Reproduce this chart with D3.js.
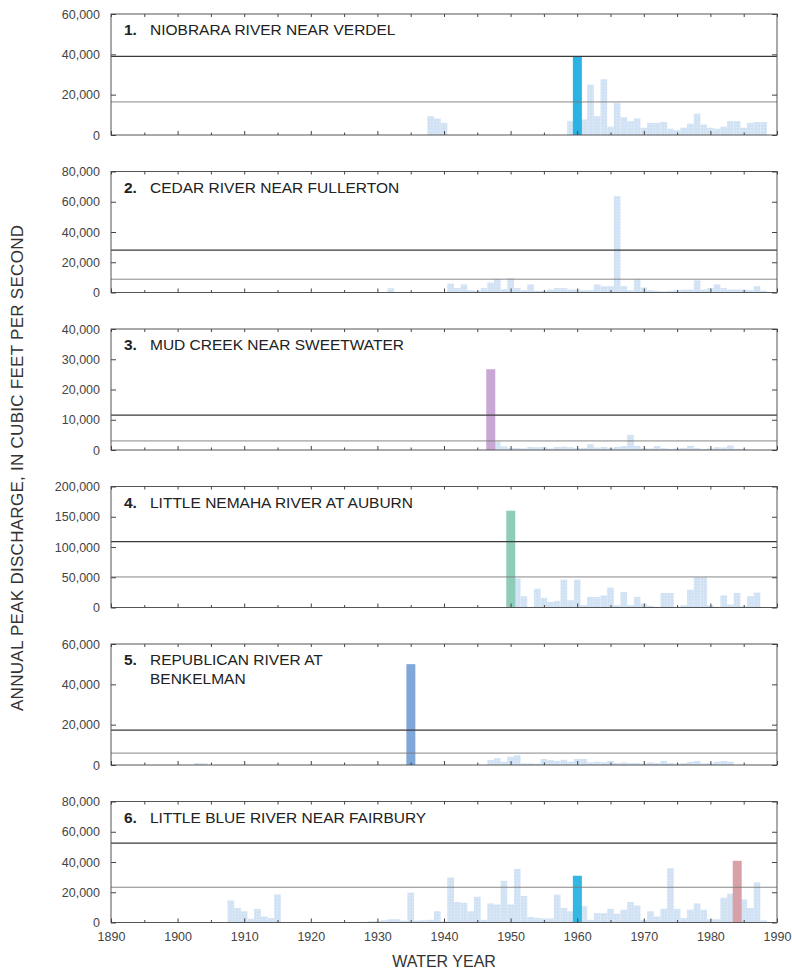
<!DOCTYPE html>
<html>
<head>
<meta charset="utf-8">
<script src="https://cdn.jsdelivr.net/npm/d3@7"></script>
<style>
  body { margin: 0; background: #fff; }
  svg { font-family: "Liberation Sans", Arial, sans-serif; }
</style>
</head>
<body>
<div id="chart"></div>
<script>
// Page and panel layout
const WIDTH = 792;
const HEIGHT = 971;
const LEFT = 111;
const RIGHT = 777;
const TOP0 = 14;
const STEP = 157.5;
const PANEL_H = 121;

// Station titles
const stationNumbers = ["1.", "2.", "3.", "4.", "5.", "6."];
const stationNames = [
  ["NIOBRARA RIVER NEAR VERDEL"],
  ["CEDAR RIVER NEAR FULLERTON"],
  ["MUD CREEK NEAR SWEETWATER"],
  ["LITTLE NEMAHA RIVER AT AUBURN"],
  ["REPUBLICAN RIVER AT", "BENKELMAN"],
  ["LITTLE BLUE RIVER NEAR FAIRBURY"]
];

// Y scales (cubic feet per second)
const yMax = [60000, 80000, 40000, 200000, 60000, 80000];
const yStep = [20000, 20000, 10000, 50000, 20000, 20000];

// Horizontal reference lines
const upperLine = [39000, 28000, 11500, 109000, 17300, 52500];
const lowerLine = [16400, 8800, 3000, 50500, 5900, 23300];

// Annual peaks
const niobraraYears = [1938, 1939, 1940].concat(d3.range(1959, 1989));
const niobraraPeaks = [9300, 8200, 6000,
  7000, 39000, 7700, 25000, 9300, 27700, 4100, 15900, 8800, 6900, 8200,
  3600, 6000, 6000, 6500, 3100, 2500, 3600, 5600, 10600, 5200,
  3600, 3100, 4100, 6900, 6900, 3600, 6000, 6400, 6400];

const cedarYears = [1932].concat(d3.range(1941, 1989));
const cedarPeaks = [2800,
  5900, 2900, 5300, 1500, 1100, 2900, 6600, 8800, 2200,
  9500, 2900, 1500, 5300, 1100, 1100, 2000, 2900, 2900, 2000,
  2000, 1500, 1500, 5300, 4200, 4200, 63700, 4200, 1500, 8800,
  3300, 1500, 1100, 700, 1100, 1500, 2000, 2000, 8100, 2000,
  2900, 5300, 2900, 2000, 2000, 2000, 1500, 4200, 1100];

const mudYears = d3.range(1947, 1986);
const mudPeaks = [26700, 2800, 1200, 700, 600, 500, 1000, 900, 1000, 500,
  1000, 1100, 900, 600, 700, 1900, 800, 1000, 600, 1000,
  1300, 5000, 1400, 600, 500, 1300, 600, 400, 500, 700,
  1400, 600, 300, 500, 900, 800, 1500, 400, 300];

const nemahaYears = d3.range(1950, 1989);
const nemahaPeaks = [160000, 48000, 18600, 1000, 31000, 15800, 9300, 11000, 46000, 12000,
  46000, 3800, 17500, 17500, 20000, 32800, 3800, 25700, 3800, 17500,
  6500, 2700, 1000, 24000, 24000, 1000, 3800, 29500, 50000, 50000,
  3800, 1000, 20000, 5000, 24000, 2000, 18600, 24600, 1000];

const republicanYears = [1903, 1904, 1935].concat(d3.range(1947, 1984));
const republicanPeaks = [1000, 800, 50000,
  2500, 3300, 1600, 4100, 4800, 800, 800, 600, 3000, 2500,
  2000, 2600, 1600, 3000, 3000, 1300, 1600, 1300, 2000, 1000,
  1300, 1000, 1000, 700, 1300, 1000, 2000, 1000, 700, 1000,
  1600, 2000, 800, 1000, 1600, 2000, 1600];

const blueYears = d3.range(1908, 1916).concat(d3.range(1929, 1989));
const bluePeaks = [14600, 9600, 7400, 2500, 9000, 4000, 3000, 18600,
  800, 1000, 1500, 2200, 2200, 1200,
  19700, 1300, 1500, 1800, 7400, 700,
  29800, 13500, 13000, 7400, 17000, 1800, 12600, 11900, 27600,
  11900, 35400, 17500, 3600, 3100, 2700, 2700, 18400, 9600, 7400,
  30900, 10800, 1800, 6300, 6300, 9000, 5800, 8500, 13500, 11200,
  1800, 7400, 4000, 9000, 35900, 9000, 2900, 8500, 12600, 8500,
  2200, 2200, 16400, 19000, 40800, 15200, 9600, 26500, 1300];

const peakYears = [niobraraYears, cedarYears, mudYears, nemahaYears, republicanYears, blueYears];
const peakValues = [niobraraPeaks, cedarPeaks, mudPeaks, nemahaPeaks, republicanPeaks, bluePeaks];

// Years of the highlighted floods
const highlightYears = [[1960], [], [1947], [1950], [1935], [1960, 1984]];

// Colours
const BAR_COLOR = "#d0e2f3";
const highlightColors = [["#2bb3e4"], [], ["#c9a7d4"], ["#8fcdbb"], ["#7fa7d8"], ["#33b7e3", "#d8a1aa"]];

// X axis
const xTicks = d3.range(1890, 1991, 10);
const xMinor = d3.range(1895, 1990, 10);

const svg = d3.select("#chart").append("svg")
  .attr("width", WIDTH)
  .attr("height", HEIGHT);

// light dotted texture like the printed screen tint
const pat = svg.append("defs").append("pattern")
  .attr("id", "tint")
  .attr("width", 3).attr("height", 3)
  .attr("patternUnits", "userSpaceOnUse");
pat.append("rect").attr("width", 3).attr("height", 3).attr("fill", BAR_COLOR);
pat.append("rect").attr("x", 1).attr("y", 1).attr("width", 1).attr("height", 1).attr("fill", "#e2edf8");

const x = d3.scaleLinear().domain([1890, 1990]).range([LEFT, RIGHT]);
const yearW = x(1891) - x(1890);

stationNames.forEach(function (name, i) {
  const top = TOP0 + i * STEP;
  const bottom = top + PANEL_H;
  const y = d3.scaleLinear().domain([0, yMax[i]]).range([bottom, top]);
  const g = svg.append("g").attr("class", "panel");
  const yTicks = d3.range(0, yMax[i] + 1, yStep[i]);

  const rows = peakYears[i].map((yr, k) => ({ year: yr, value: peakValues[i][k] }));
  const hl = highlightYears[i];

  // light bars
  g.append("g").selectAll("rect")
    .data(rows.filter((d) => hl.indexOf(d.year) < 0))
    .join("rect")
    .attr("x", (d) => x(d.year - 0.5))
    .attr("width", yearW)
    .attr("y", (d) => y(d.value))
    .attr("height", (d) => bottom - y(d.value))
    .attr("fill", "url(#tint)");

  // highlighted bars
  g.append("g").selectAll("rect")
    .data(rows.filter((d) => hl.indexOf(d.year) >= 0))
    .join("rect")
    .attr("x", (d) => x(d.year - 0.65))
    .attr("width", yearW * 1.35)
    .attr("y", (d) => y(d.value))
    .attr("height", (d) => bottom - y(d.value))
    .attr("fill", (d) => highlightColors[i][hl.indexOf(d.year)]);

  // reference lines
  g.append("line")
    .attr("x1", LEFT).attr("x2", RIGHT)
    .attr("y1", y(upperLine[i])).attr("y2", y(upperLine[i]))
    .attr("stroke", "#3a3a3a").attr("stroke-width", 1.3);
  g.append("line")
    .attr("x1", LEFT).attr("x2", RIGHT)
    .attr("y1", y(lowerLine[i])).attr("y2", y(lowerLine[i]))
    .attr("stroke", "#7a7a7a").attr("stroke-width", 0.9);

  // frame
  g.append("rect")
    .attr("x", LEFT).attr("y", top)
    .attr("width", RIGHT - LEFT).attr("height", PANEL_H)
    .attr("fill", "none").attr("stroke", "#555").attr("stroke-width", 1);

  // left axis with labels
  const yl = g.append("g")
    .attr("transform", `translate(${LEFT},0)`)
    .call(d3.axisLeft(y).tickValues(yTicks).tickSize(-5).tickPadding(11).tickFormat(d3.format(",")));
  yl.select(".domain").remove();
  yl.selectAll("line").attr("stroke", "#444");
  yl.selectAll("text").attr("font-size", 12.5).attr("fill", "#444");

  // right axis ticks
  const yr = g.append("g")
    .attr("transform", `translate(${RIGHT},0)`)
    .call(d3.axisRight(y).tickValues(yTicks).tickSize(-5).tickFormat(""));
  yr.select(".domain").remove();
  yr.selectAll("line").attr("stroke", "#444");

  // bottom ticks (inward)
  const xb = g.append("g")
    .attr("transform", `translate(0,${bottom})`)
    .call(d3.axisBottom(x).tickValues(xTicks).tickSize(-4).tickFormat(""));
  xb.select(".domain").remove();
  const xbm = g.append("g")
    .attr("transform", `translate(0,${bottom})`)
    .call(d3.axisBottom(x).tickValues(xMinor).tickSize(-2.5).tickFormat(""));
  xbm.select(".domain").remove();

  // top ticks (inward)
  const xt = g.append("g")
    .attr("transform", `translate(0,${top})`)
    .call(d3.axisTop(x).tickValues(xTicks.concat(xMinor)).tickSize(-3).tickFormat(""));
  xt.select(".domain").remove();
  g.selectAll(".tick line").attr("stroke", "#444");

  // title
  const t = g.append("text")
    .attr("x", LEFT + 13)
    .attr("y", top + 21)
    .attr("font-size", 15.5)
    .attr("fill", "#222");
  t.append("tspan").attr("font-weight", "bold").text(stationNumbers[i]);
  name.forEach(function (line, k) {
    t.append("tspan")
      .attr("x", LEFT + 39)
      .attr("dy", k === 0 ? 0 : 19)
      .text(line);
  });

  // year labels under the last panel
  if (i === stationNames.length - 1) {
    const xl = g.append("g")
      .attr("transform", `translate(0,${bottom})`)
      .call(d3.axisBottom(x).tickValues(xTicks).tickSize(0).tickPadding(10).tickFormat(d3.format("d")));
    xl.select(".domain").remove();
    xl.selectAll("text").attr("font-size", 12.5).attr("fill", "#444");
  }
});

// Axis titles
svg.append("text")
  .attr("transform", "translate(23,468) rotate(-90)")
  .attr("text-anchor", "middle")
  .attr("font-size", 17)
  .attr("textLength", 486)
  .attr("lengthAdjust", "spacing")
  .attr("fill", "#333")
  .text("ANNUAL PEAK DISCHARGE, IN CUBIC FEET PER SECOND");

svg.append("text")
  .attr("x", 444)
  .attr("y", 967)
  .attr("text-anchor", "middle")
  .attr("font-size", 16)
  .attr("fill", "#333")
  .text("WATER YEAR");
</script>
</body>
</html>
